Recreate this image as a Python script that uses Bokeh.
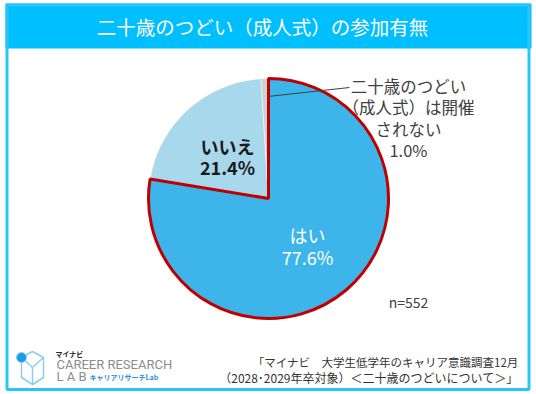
import numpy as np
from bokeh.plotting import figure
from bokeh.models import Range1d
from bokeh.embed import file_html
from bokeh.resources import INLINE
from bokeh.core.properties import value

# ---------------- data ----------------
title_text = "二十歳のつどい（成人式）の参加有無"
categories = ["はい", "いいえ", "二十歳のつどい\n（成人式）は開催\nされない"]
shares = [77.6, 21.4, 1.0]
slice_colors = ["#3DB5EA", "#A8D8EC", "#D0D0D0"]
label_colors = ["#FFFFFF", "#1A1A1A", "#404040"]
sample_note = "n=552"
source_lines = ["「マイナビ　大学生低学年のキャリア意識調査12月",
                "（2028･2029年卒対象）＜二十歳のつどいについて＞」"]

# ---------------- layout ----------------
FW, FH = 536, 394
def Y(py):
    return FH - py         # data y from a top-down pixel position

FONT = "Noto Sans CJK JP"
cx, cy, R = 268, Y(198), 120

p = figure(width=FW, height=FH, x_range=Range1d(0, FW), y_range=Range1d(0, FH),
           output_backend="svg", toolbar_location=None, min_border=0,
           x_axis_location=None, y_axis_location=None)
p.grid.visible = False
p.outline_line_color = None
p.background_fill_color = "white"
p.border_fill_color = "white"

# frame + title band
p.quad(left=[5], right=[531], top=[Y(3)], bottom=[Y(48)], fill_color="#00BFFF", line_color=None)
p.quad(left=[6.5], right=[528.5], top=[Y(4.5)], bottom=[Y(389)], fill_color=None,
       line_color="#2AC5F7", line_width=3)
p.text(x=[262], y=[Y(26)], text=[title_text], text_color="white", text_font=value(FONT),
       text_font_size="19.5px", text_align="center", text_baseline="middle")

# ---------------- pie ----------------
fr = np.array(shares) / sum(shares)
cum = np.concatenate([[0.0], np.cumsum(fr)])
start = np.pi / 2 - 2 * np.pi * cum[:-1]
end = np.pi / 2 - 2 * np.pi * cum[1:]

for i in [1, 2]:
    p.wedge(x=cx, y=cy, radius=R, start_angle=start[i], end_angle=end[i], direction="clock",
            fill_color=slice_colors[i], line_color="white", line_width=0.5)
p.wedge(x=cx, y=cy, radius=R, start_angle=start[0], end_angle=end[0], direction="clock",
        fill_color=slice_colors[0], line_color="#C00000", line_width=3)

# labels
pct = [f"{s:.1f}%" for s in shares]
p.text(x=[227, 227], y=[Y(145), Y(166)], text=[categories[1], pct[1]], text_color=label_colors[1],
       text_font=value(FONT), text_font_size="18px", text_font_style="bold",
       text_align="center", text_baseline="middle")
p.text(x=[307, 307], y=[Y(234), Y(256)], text=[categories[0], pct[0]], text_color=label_colors[0],
       text_font=value(FONT), text_font_size="18px", text_align="center", text_baseline="middle")
call_lines = categories[2].split("\n") + [pct[2]]
call_y = [85, 106, 128, 149]
p.text(x=[408] * 4, y=[Y(v) for v in call_y], text=call_lines, text_color=label_colors[2],
       text_font=value(FONT), text_font_size="16.5px", text_align="center", text_baseline="middle")
mid = (start[2] + end[2]) / 2
lx0 = cx + 0.85 * R * np.cos(mid) + 2
ly0 = cy + 0.85 * R * np.sin(mid)
p.line(x=[lx0, 349], y=[ly0, Y(87)], line_color="#404040", line_width=1)

p.text(x=[408], y=[Y(301)], text=[sample_note], text_color="#404040", text_font=value(FONT),
       text_font_size="14px", text_align="center", text_baseline="middle")

# source
p.text(x=[518], y=[Y(361)], text=[source_lines[0]], text_color="#333333",
       text_font=value(FONT), text_font_size="11.5px", text_align="right", text_baseline="middle")
p.text(x=[518], y=[Y(377)], text=[source_lines[1]], text_color="#333333",
       text_font=value(FONT), text_font_size="12px", text_align="right", text_baseline="middle")

# ---------------- logo ----------------
hx = [32, 43, 43, 32, 21, 21, 32]
hy = [351, 357, 377, 384, 377, 357, 351]
p.line(x=hx, y=[Y(v) for v in hy], line_color="#8ACFEA", line_width=1.5)
p.multi_line(xs=[[32, 32], [21, 32], [32, 43]], ys=[[Y(367), Y(384)], [Y(357), Y(367)], [Y(367), Y(357)]],
             line_color="#8ACFEA", line_width=1.5)
p.scatter(x=[21], y=[Y(357)], size=10, fill_color="#1E9BE3", line_color="#7FD6FF", line_width=1)
p.text(x=[55], y=[Y(353)], text=["マイナビ"], text_color="#222222", text_font=value(FONT),
       text_font_size="7px", text_font_style="bold", text_baseline="middle")
p.text(x=[56], y=[Y(364)], text=["CAREER RESEARCH"], text_color="#8C8C8C", text_font=value("Roboto"),
       text_font_size="13px", text_baseline="middle")
p.text(x=[56], y=[Y(376)], text=["L A B"], text_color="#8C8C8C", text_font=value("Roboto"),
       text_font_size="13px", text_baseline="middle")
p.text(x=[89], y=[Y(376)], text=["キャリアリサーチLab"], text_color="#2A8FD6", text_font=value(FONT),
       text_font_size="7px", text_font_style="bold", text_baseline="middle")

open("out.html", "w").write(file_html(p, INLINE))
